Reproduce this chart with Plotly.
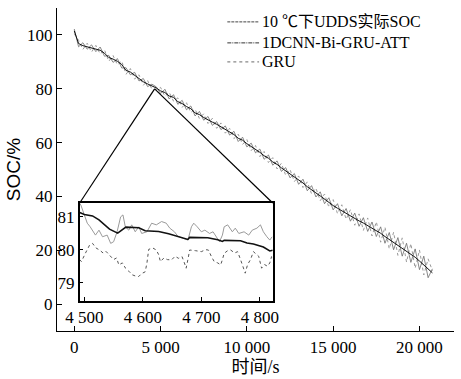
import plotly.graph_objects as go

# ---------------- data ----------------
series_names = ["10 ℃下UDDS实际SOC", "1DCNN-Bi-GRU-ATT", "GRU"]

time_main = list(range(0, 20751, 250))
soc_actual = [101.5, 96.8, 96.0, 95.6, 95.0, 94.8, 94.3, 93.2, 91.6, 91.0, 90.2, 89.0,
              86.8, 86.2, 85.0, 83.8, 82.6, 81.8, 81.1, 80.3, 79.2, 78.6, 77.3, 76.8,
              75.2, 74.5, 73.4, 72.6, 71.0, 70.4, 69.3, 68.6, 67.6, 66.8, 65.9, 65.0,
              63.8, 63.0, 61.6, 60.9, 59.6, 58.6, 57.3, 56.4, 55.1, 54.2, 52.8, 51.9,
              50.6, 49.5, 48.3, 47.2, 45.9, 45.0, 43.6, 42.6, 41.3, 40.2, 38.9, 37.9,
              36.6, 35.6, 34.6, 33.8, 32.7, 31.9, 30.9, 30.1, 29.2, 28.3, 27.4, 26.3,
              25.1, 24.0, 22.9, 21.9, 20.7, 19.6, 18.5, 17.4, 16.0, 14.6, 13.1, 11.6]
soc_cnn = [102.2, 95.6, 97.1, 94.7, 96.3, 93.8, 95.5, 92.1, 92.4, 89.8, 91.2, 87.7,
           87.8, 85.2, 86.1, 82.9, 83.8, 80.8, 81.7, 80.7, 78.2, 79.8, 76.2, 77.8,
           74.2, 75.7, 72.2, 73.6, 69.9, 71.6, 68.3, 69.7, 66.4, 67.8, 64.8, 66.2,
           62.8, 64.2, 60.4, 62.0, 58.4, 59.8, 56.2, 57.6, 53.8, 55.4, 51.6, 53.2,
           49.3, 50.7, 46.9, 48.5, 44.5, 46.4, 42.1, 44.0, 39.8, 41.7, 37.3, 39.5,
           35.0, 37.3, 32.8, 35.5, 30.8, 33.8, 28.9, 32.1, 27.0, 30.5, 25.1, 28.7,
           22.6, 26.6, 20.2, 24.7, 17.8, 22.6, 15.5, 20.5, 12.8, 17.8, 9.8, 13.1]
soc_gru = [100.4, 98.0, 94.6, 96.9, 93.6, 96.1, 92.9, 94.5, 90.2, 92.3, 88.9, 90.3,
           85.4, 87.5, 83.6, 85.2, 81.3, 83.0, 79.9, 79.8, 80.5, 77.2, 78.7, 75.4,
           76.6, 73.1, 74.8, 71.2, 72.4, 69.0, 70.7, 67.1, 69.0, 65.3, 67.3, 63.5,
           65.3, 61.5, 63.1, 59.3, 61.1, 57.0, 58.9, 54.8, 56.7, 52.6, 54.4, 50.2,
           52.3, 47.8, 50.0, 45.5, 47.6, 43.3, 45.4, 40.9, 43.1, 38.4, 40.9, 36.0,
           38.8, 33.6, 36.9, 31.5, 35.1, 29.3, 33.5, 27.4, 32.0, 25.3, 30.6, 23.0,
           28.6, 20.5, 26.7, 18.1, 24.6, 15.6, 22.5, 13.3, 20.1, 10.8, 16.8, 12.4]

# inset (zoom 4 492 s – 4 822 s)
inset_t_actual = [4492, 4500, 4514, 4525, 4543, 4557, 4571, 4593, 4604, 4627, 4644, 4660,
                  4677, 4680, 4711, 4728, 4736, 4739, 4767, 4778, 4789, 4806, 4817, 4822]
inset_actual = [81.12, 81.06, 81.02, 80.9, 80.62, 80.5, 80.68, 80.66, 80.57, 80.55, 80.48, 80.4,
                80.31, 80.37, 80.36, 80.3, 80.25, 80.28, 80.27, 80.2, 80.17, 80.08, 79.96, 79.98]

inset_t_cnn = [4492, 4494, 4505, 4510, 4519, 4525, 4531, 4539, 4545, 4550, 4556, 4562, 4566,
               4570, 4576, 4581, 4587, 4593, 4598, 4607, 4615, 4623, 4632, 4640, 4646, 4654,
               4660, 4668, 4677, 4683, 4687, 4693, 4700, 4706, 4714, 4720, 4725, 4731, 4736,
               4739, 4745, 4753, 4758, 4764, 4773, 4781, 4787, 4795, 4801, 4806, 4812, 4817, 4821]
inset_cnn = [81.4, 81.35, 80.80, 80.69, 80.44, 80.59, 80.39, 80.44, 80.19, 80.24, 80.54, 80.99, 81.05,
             80.69, 80.59, 80.75, 80.54, 80.69, 80.49, 80.54, 80.80, 80.75, 80.85, 80.80, 80.65, 80.54,
             80.40, 80.35, 80.29, 80.69, 80.80, 80.69, 80.54, 80.59, 80.49, 80.54, 80.39, 80.24, 80.44,
             80.69, 80.75, 80.54, 80.65, 80.49, 80.54, 80.44, 80.59, 80.65, 80.75, 80.54, 80.39, 80.29, 80.39]

inset_t_gru = [4492, 4495, 4502, 4509, 4514, 4520, 4526, 4532, 4537, 4543, 4550, 4555, 4559,
               4565, 4570, 4576, 4582, 4588, 4593, 4598, 4604, 4607, 4610, 4617, 4623, 4627,
               4630, 4636, 4642, 4649, 4655, 4661, 4667, 4671, 4674, 4677, 4680, 4690, 4700,
               4707, 4712, 4717, 4722, 4728, 4733, 4736, 4739, 4745, 4750, 4757, 4762, 4767,
               4771, 4775, 4779, 4784, 4789, 4794, 4798, 4803, 4808, 4813, 4817, 4820, 4822]
inset_gru = [79.70, 79.64, 79.9, 80.14, 80.19, 80.05, 79.99, 79.9, 79.95, 79.84, 79.7, 79.75, 79.54,
             79.6, 79.45, 79.35, 79.24, 79.2, 79.19, 79.28, 79.33, 79.6, 80.01, 80.05, 79.99, 79.85,
             79.64, 79.75, 79.7, 79.69, 79.8, 79.74, 79.79, 79.6, 79.44, 79.7, 79.99, 79.97, 79.94,
             80.0, 79.99, 79.8, 79.64, 79.6, 79.54, 79.7, 79.89, 79.97, 79.99, 79.9, 79.94, 79.7,
             79.5, 79.29, 79.55, 79.7, 79.94, 79.85, 79.8, 79.44, 79.55, 79.5, 79.6, 79.79, 79.75]

main_xticks = [0, 5000, 10000, 15000, 20000, 22000]
main_xticktext = ["0", "5 000", "10 000", "15 000", "20 000", ""]
main_yticks = [0, 20, 40, 60, 80, 100, 110]
main_yticktext = ["0", "20", "40", "60", "80", "100", ""]
inset_xticks = [4500, 4600, 4700, 4800]
inset_xticktext = ["4 500", "4 600", "4 700", "4 800"]
inset_yticks = [79, 80, 81]

# ---------------- styling / layout ----------------
FONT = "Liberation Serif, Noto Sans CJK SC, serif"
main_xrange = [-1000, 22000]
main_yrange = [-10, 110]
inset_xrange = [4492, 4822]
inset_yrange = [78.45, 81.41]
inset_xdom = [0.0571, 0.5434]
inset_ydom = [0.0929, 0.3963]

fig = go.Figure()

# main traces
fig.add_trace(go.Scatter(x=time_main, y=soc_gru, mode="lines", showlegend=False,
                         line=dict(color="#9a9a9a", width=1, dash="dot")))
fig.add_trace(go.Scatter(x=time_main, y=soc_cnn, mode="lines", showlegend=False,
                         line=dict(color="#6a6a6a", width=0.8)))
fig.add_trace(go.Scatter(x=time_main, y=soc_actual, mode="lines", showlegend=False,
                         line=dict(color="#111111", width=1)))

# inset traces
fig.add_trace(go.Scatter(x=inset_t_gru, y=inset_gru, mode="lines", showlegend=False,
                         xaxis="x2", yaxis="y2",
                         line=dict(color="#555555", width=1, dash="dot")))
fig.add_trace(go.Scatter(x=inset_t_cnn, y=inset_cnn, mode="lines", showlegend=False,
                         xaxis="x2", yaxis="y2",
                         line=dict(color="#9a9a9a", width=1)))
fig.add_trace(go.Scatter(x=inset_t_actual, y=inset_actual, mode="lines", showlegend=False,
                         xaxis="x2", yaxis="y2",
                         line=dict(color="#111111", width=1.6)))

# connector lines from zoomed region to inset top corners (computed from layout)
zx = (inset_xrange[0] + inset_xrange[1]) / 2
zy = (inset_yrange[0] + inset_yrange[1]) / 2
top_y = main_yrange[0] + inset_ydom[1] * (main_yrange[1] - main_yrange[0])
for d in inset_xdom:
    cx = main_xrange[0] + d * (main_xrange[1] - main_xrange[0])
    fig.add_shape(type="line", xref="x", yref="y", x0=zx, y0=zy, x1=cx, y1=top_y,
                  line=dict(color="black", width=1.2))

# manual legend
leg_x0, leg_x1, leg_tx = 0.429, 0.509, 0.511
leg_rows = [0.957, 0.892, 0.833]
leg_styles = [dict(color="#444444", width=1, dash="3px,1px"),
              dict(color="#333333", width=1, dash="4px,1px,1px,1px"),
              dict(color="#888888", width=1.2, dash="dot")]
for name, yy, st in zip(series_names, leg_rows, leg_styles):
    fig.add_shape(type="line", xref="paper", yref="paper", x0=leg_x0, x1=leg_x1,
                  y0=yy, y1=yy, line=st)
    fig.add_annotation(xref="paper", yref="paper", x=leg_tx, y=yy, text=name,
                       showarrow=False, xanchor="left", yanchor="middle",
                       font=dict(family=FONT, size=16, color="black"))

axis_common = dict(showline=True, linecolor="black", showgrid=False, zeroline=False,
                   ticks="inside", tickcolor="black",
                   tickfont=dict(family=FONT, size=17, color="black"))

fig.update_layout(
    width=461, height=379,
    margin=dict(l=57, r=1, t=8, b=48),
    paper_bgcolor="white", plot_bgcolor="white",
    font=dict(family=FONT, size=17, color="black"),
    xaxis=dict(domain=[0, 1], range=main_xrange, tickvals=main_xticks, ticktext=main_xticktext,
               linewidth=1.2, ticklen=5,
               title=dict(text="时间/s", font=dict(family=FONT, size=18), standoff=4),
               **axis_common),
    yaxis=dict(domain=[0, 1], range=main_yrange, tickvals=main_yticks, ticktext=main_yticktext,
               linewidth=1.2, ticklen=5,
               title=dict(text="SOC/%", font=dict(family="Liberation Sans, sans-serif", size=19),
                          standoff=1),
               **axis_common),
    xaxis2=dict(domain=inset_xdom, anchor="y2", range=inset_xrange, tickvals=inset_xticks,
                ticktext=inset_xticktext, mirror=True, linewidth=1.6, ticklen=4,
                **axis_common),
    yaxis2=dict(domain=inset_ydom, anchor="x2", range=inset_yrange, tickvals=inset_yticks,
                mirror=True, linewidth=1.6, ticklen=4, **axis_common),
)

fig.write_html("out.html")
